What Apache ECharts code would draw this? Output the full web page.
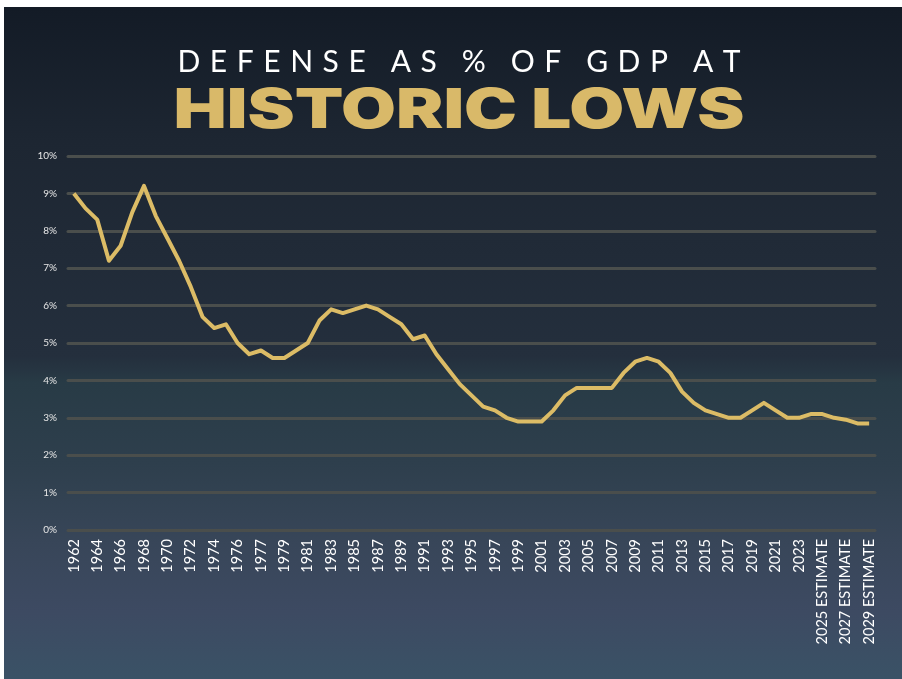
<!DOCTYPE html>
<html>
<head>
<meta charset="utf-8">
<title>Defense as % of GDP</title>
<script src="https://cdn.jsdelivr.net/npm/echarts@6/dist/echarts.min.js"></script>
<style>
  html, body { margin: 0; padding: 0; background: #ffffff; }
  #chart { position: absolute; left: 4px; top: 7px; width: 898px; height: 672px; }
</style>
</head>
<body>
<div id="chart"></div>
<script>
// Fiscal years (TQ = 1976 transition quarter); projections flagged as estimates
const years = [
  '1962','1963','1964','1965','1966','1967','1968','1969','1970','1971',
  '1972','1973','1974','1975','1976','TQ','1977','1978','1979','1980',
  '1981','1982','1983','1984','1985','1986','1987','1988','1989','1990',
  '1991','1992','1993','1994','1995','1996','1997','1998','1999','2000',
  '2001','2002','2003','2004','2005','2006','2007','2008','2009','2010',
  '2011','2012','2013','2014','2015','2016','2017','2018','2019','2020',
  '2021','2022','2023','2024 ESTIMATE','2025 ESTIMATE','2026 ESTIMATE',
  '2027 ESTIMATE','2028 ESTIMATE','2029 ESTIMATE'
];

// National defense outlays, percent of GDP
const defenseShare = [
  9.0, 8.6, 8.3, 7.2, 7.6, 8.5, 9.2, 8.4, 7.8, 7.2,
  6.5, 5.7, 5.4, 5.5, 5.0, 4.7, 4.8, 4.6, 4.6, 4.8,
  5.0, 5.6, 5.9, 5.8, 5.9, 6.0, 5.9, 5.7, 5.5, 5.1,
  5.2, 4.7, 4.3, 3.9, 3.6, 3.3, 3.2, 3.0, 2.9, 2.9,
  2.9, 3.2, 3.6, 3.8, 3.8, 3.8, 3.8, 4.2, 4.5, 4.6,
  4.5, 4.2, 3.7, 3.4, 3.2, 3.1, 3.0, 3.0, 3.2, 3.4,
  3.2, 3.0, 3.0, 3.1, 3.1, 3.0, 2.95, 2.85, 2.85
];

// Percent axis range
const yMin = 0;
const yMax = 10;
const yStep = 1;

// Spread the headline letters out (space + hair space between letters)
function spaced(str) {
  return str.split(' ')
    .map(word => word.split('').join(' \u200A'))
    .join('   \u200A');
}
const headline = spaced('DEFENSE AS % OF GDP AT');
const subhead = 'HISTORIC LOWS';

const chart = echarts.init(document.getElementById('chart'));

chart.setOption({
  backgroundColor: new echarts.graphic.LinearGradient(0, 0, 0, 1, [
    { offset: 0.00, color: '#131b26' },
    { offset: 0.20, color: '#1d2632' },
    { offset: 0.52, color: '#242f3d' },
    { offset: 0.56, color: '#283b46' },
    { offset: 0.68, color: '#2e3f4d' },
    { offset: 0.80, color: '#384659' },
    { offset: 0.90, color: '#3d4a62' },
    { offset: 1.00, color: '#3a5266' }
  ]),
  animation: false,
  graphic: [
    {
      type: 'text',
      x: 455, y: 55,
      style: {
        text: headline,
        fill: '#ffffff',
        fontFamily: 'Lato',
        fontWeight: 400,
        fontSize: 30,
        textAlign: 'center',
        textVerticalAlign: 'middle'
      }
    },
    {
      type: 'text',
      x: 455, y: 104,
      scaleX: 1.29,
      style: {
        text: subhead,
        fill: '#d9b969',
        fontFamily: 'Inter',
        fontWeight: 900,
        fontSize: 55,
        textAlign: 'center',
        textVerticalAlign: 'middle'
      }
    }
  ],
  grid: { left: 64, right: 27, top: 149, bottom: 149 },
  xAxis: {
    type: 'category',
    data: years,
    boundaryGap: true,
    axisLine: { show: false },
    axisTick: { show: false },
    axisLabel: {
      interval: 1,
      rotate: 90,
      margin: 9,
      color: '#ffffff',
      fontFamily: 'Lato',
      fontSize: 14.5
    }
  },
  yAxis: {
    type: 'value',
    min: yMin,
    max: yMax,
    interval: yStep,
    axisLine: { show: false },
    axisTick: { show: false },
    axisLabel: {
      formatter: '{value}%',
      color: '#e6e6e6',
      fontFamily: 'Lato',
      fontSize: 10,
      margin: 11
    },
    splitLine: {
      lineStyle: { color: '#4a4e4c', width: 3, cap: 'round' }
    }
  },
  series: [{
    type: 'line',
    data: defenseShare,
    showSymbol: false,
    symbol: 'none',
    lineStyle: { color: '#dcbc66', width: 4, join: 'round' },
    itemStyle: { color: '#dcbc66' }
  }]
});
</script>
</body>
</html>
